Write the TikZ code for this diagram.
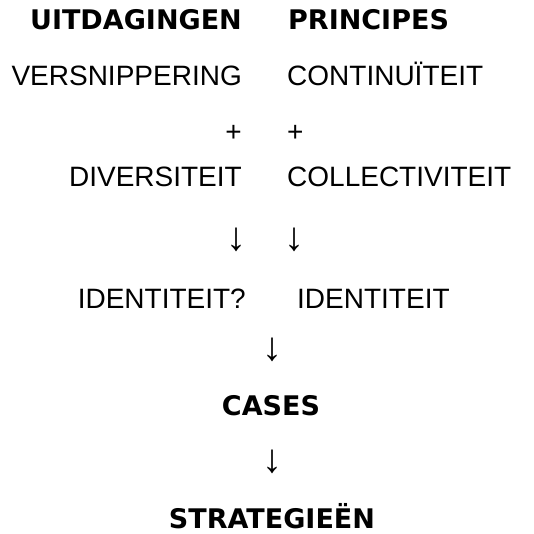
\documentclass[tikz,border=0pt]{standalone}
\usepackage{fontspec}
\setmainfont{Liberation Sans}
\newfontfamily\headfont{DejaVu Sans}

\tikzset{head/.style={font=\fontsize{27}{30}\selectfont\headfont\bfseries,inner sep=0pt},
  term/.style={font=\fontsize{28}{30}\selectfont,inner sep=0pt},
  down/.style={font=\fontsize{40}{42}\selectfont,inner sep=0pt}}

\begin{document}
\begin{tikzpicture}[x=1pt,y=-1pt]
\useasboundingbox (0,0) rectangle (534,533);
\node[head,anchor=base east](U) at (242,29) {UITDAGINGEN};
\node[head,anchor=base west](P) at (288,29) {PRINCIPES};
\node[term,anchor=base east](V) at (242,85) {VERSNIPPERING};
\node[term,anchor=base west](C) at (287,85) {CONTINUÏTEIT};
\node[term,anchor=base east](PL) at (242,141) {+};
\node[term,anchor=base west](PR) at (287,141) {+};
\node[term,anchor=base east](D) at (242,186) {DIVERSITEIT};
\node[term,anchor=base west](CO) at (287,186) {COLLECTIVITEIT};
\node[down](AL) at (236,240) {↓};
\node[down](AR) at (294,240) {↓};
\node[term,anchor=base east](IL) at (246,308) {IDENTITEIT?};
\node[term,anchor=base west](IR) at (297,308) {IDENTITEIT};
\node[down](A1) at (272,350) {↓};
\node[head,anchor=base](CA) at (271,415) {CASES};
\node[down](A2) at (272,462) {↓};
\node[head,anchor=base](S) at (272,528) {STRATEGIEËN};
\end{tikzpicture}
\end{document}
